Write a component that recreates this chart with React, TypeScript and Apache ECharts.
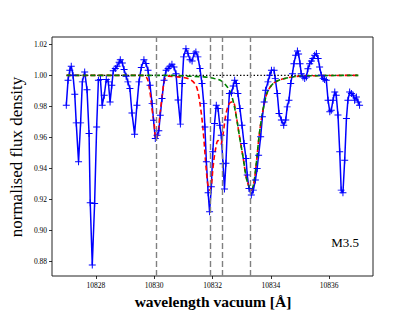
import React, { useEffect, useRef } from "react";
import * as echarts from "echarts";

// observed spectrum
const wavelength = [
  10826.99, 10827.05, 10827.11, 10827.16, 10827.22, 10827.28, 10827.33, 10827.41, 10827.48, 10827.54,
  10827.62, 10827.70, 10827.77, 10827.81, 10827.88, 10827.96, 10828.03, 10828.09, 10828.16, 10828.22,
  10828.29, 10828.36, 10828.43, 10828.49, 10828.55, 10828.60, 10828.67, 10828.73, 10828.80, 10828.84,
  10828.91, 10828.97, 10829.04, 10829.10, 10829.17, 10829.24, 10829.33, 10829.41, 10829.48, 10829.56,
  10829.65, 10829.72, 10829.79, 10829.86, 10829.93, 10829.98, 10830.04, 10830.10, 10830.16, 10830.21,
  10830.27, 10830.34, 10830.41, 10830.48, 10830.54, 10830.61, 10830.68, 10830.75, 10830.82, 10830.90,
  10830.96, 10831.01, 10831.09, 10831.16, 10831.23, 10831.30, 10831.37, 10831.43, 10831.50, 10831.57,
  10831.64, 10831.70, 10831.74, 10831.79, 10831.85, 10831.90, 10831.96, 10832.01, 10832.07, 10832.13,
  10832.19, 10832.25, 10832.30, 10832.36, 10832.41, 10832.46, 10832.52, 10832.58, 10832.65, 10832.71,
  10832.76, 10832.82, 10832.87, 10832.94, 10833.01, 10833.08, 10833.15, 10833.19, 10833.25, 10833.33,
  10833.40, 10833.47, 10833.53, 10833.58, 10833.65, 10833.71, 10833.77, 10833.82, 10833.90, 10833.96,
  10834.02, 10834.11, 10834.15, 10834.22, 10834.28, 10834.36, 10834.44, 10834.51, 10834.56, 10834.62,
  10834.68, 10834.74, 10834.79, 10834.85, 10834.91, 10834.95, 10835.00, 10835.04, 10835.10, 10835.16,
  10835.22, 10835.27, 10835.33, 10835.39, 10835.44, 10835.50, 10835.56, 10835.62, 10835.67, 10835.73,
  10835.79, 10835.84, 10835.90, 10835.96, 10836.02, 10836.07, 10836.13, 10836.19, 10836.24, 10836.30,
  10836.36, 10836.41, 10836.47, 10836.53, 10836.59, 10836.64, 10836.70, 10836.76, 10836.82, 10836.87,
  10836.93, 10836.99, 10837.04,
];
const flux = [
  0.9808, 0.9969, 1.0033, 1.0059, 1.0001, 0.9879, 0.9694, 0.9443, 0.9694, 0.9958,
  1.0022, 0.9908, 0.9626, 0.9180, 0.8779, 0.9175, 0.9668, 0.9969, 0.9973, 0.9808,
  0.9872, 0.9973, 0.9958, 0.9829, 0.9936, 1.0029, 1.0044, 1.0059, 1.0084, 1.0101,
  1.0080, 1.0037, 0.9994, 0.9958, 0.9915, 0.9758, 0.9621, 0.9808, 0.9958, 1.0050,
  1.0101, 1.0076, 1.0033, 0.9936, 0.9818, 0.9711, 0.9593, 0.9615, 0.9643, 0.9743,
  0.9851, 0.9969, 1.0033, 1.0044, 1.0059, 1.0071, 1.0054, 1.0011, 0.9842, 0.9686,
  0.9947, 1.0119, 1.0172, 1.0140, 1.0101, 1.0093, 1.0140, 1.0151, 1.0119, 1.0044,
  0.9947, 0.9818, 0.9668, 0.9443, 0.9244, 0.9122, 0.9283, 0.9508, 0.9690, 0.9808,
  0.9786, 0.9679, 0.9615, 0.9431, 0.9268, 0.9434, 0.9712, 0.9883, 0.9887, 0.9932,
  0.9969, 0.9947, 0.9883, 0.9786, 0.9679, 0.9561, 0.9465, 0.9358, 0.9272, 0.9229,
  0.9261, 0.9326, 0.9400, 0.9486, 0.9604, 0.9733, 0.9829, 0.9904, 0.9958, 1.0001,
  1.0033, 1.0033, 0.9979, 0.9883, 0.9754, 0.9712, 0.9679, 0.9712, 0.9797, 0.9840,
  0.9947, 1.0011, 1.0075, 1.0129, 1.0157, 1.0138, 1.0075, 1.0011, 0.9990, 0.9979,
  0.9990, 1.0043, 1.0075, 1.0093, 1.0108, 1.0129, 1.0140, 1.0108, 1.0054, 1.0001,
  0.9979, 0.9973, 0.9969, 0.9840, 0.9765, 0.9776, 0.9840, 0.9893, 0.9872, 0.9744,
  0.9508, 0.9261, 0.9244, 0.9454, 0.9722, 0.9840, 0.9893, 0.9883, 0.9872, 0.9840,
  0.9861, 0.9829, 0.9808,
];

// full model (red)
const redWl = [
  10827.0, 10829.5, 10829.73, 10829.85, 10829.93, 10830.0, 10830.06, 10830.13, 10830.19, 10830.27,
  10830.36, 10830.48, 10830.82, 10831.16, 10831.39, 10831.5, 10831.62, 10831.7, 10831.77, 10831.84,
  10831.91, 10831.96, 10832.02, 10832.1, 10832.19, 10832.28, 10832.36, 10832.46, 10832.58, 10832.7,
  10832.82, 10832.93, 10833.05, 10833.16, 10833.28, 10833.33, 10833.41, 10833.5, 10833.58, 10833.67,
  10833.79, 10833.9, 10834.13, 10834.48, 10835.0, 10837.0,
];
const redFlux = [
  1.0, 1.0, 0.999, 0.99, 0.978, 0.969, 0.959, 0.962, 0.973, 0.986,
  0.997, 0.9995, 0.999, 0.998, 0.9948, 0.9895, 0.975, 0.96, 0.943, 0.93,
  0.926, 0.929, 0.941, 0.952, 0.958, 0.956, 0.962, 0.975, 0.982, 0.983,
  0.973, 0.96, 0.947, 0.934, 0.927, 0.926, 0.93, 0.943, 0.958, 0.971,
  0.983, 0.99, 0.9955, 0.998, 0.9995, 1.0,
];

// helium-only model (green)
const greenWl = [
  10827.0, 10830.5, 10831.16, 10831.71, 10832.06, 10832.25, 10832.42, 10832.59, 10832.7, 10832.82,
  10832.93, 10833.05, 10833.16, 10833.28, 10833.33, 10833.41, 10833.5, 10833.58, 10833.67, 10833.79,
  10833.9, 10834.13, 10834.48, 10835.0, 10837.0,
];
const greenFlux = [
  1.0, 1.0, 0.9995, 0.999, 0.998, 0.997, 0.9945, 0.99, 0.984, 0.973,
  0.96, 0.947, 0.934, 0.927, 0.926, 0.93, 0.943, 0.958, 0.971, 0.983,
  0.99, 0.9955, 0.998, 0.9995, 1.0,
];

const continuumWl = [10827.0, 10837.0];
const continuumFlux = [1.0, 1.0];

const lineCenters = [10830.06, 10831.93, 10832.33, 10833.28];
const xTicks = [10828, 10830, 10832, 10834, 10836];
const yTicks = [0.88, 0.9, 0.92, 0.94, 0.96, 0.98, 1.0, 1.02];
const spectralType = "M3.5";

const zip = (a: number[], b: number[]) => a.map((v, i) => [v, b[i]]);

const PLUS =
  "path://M-0.14,-1H0.14V-0.14H1V0.14H0.14V1H-0.14V0.14H-1V-0.14H-0.14Z";
const SERIF = '"Liberation Serif", "DejaVu Serif", serif';

export default function App() {
  const ref = useRef<HTMLDivElement>(null);
  useEffect(() => {
    if (!ref.current) return;
    const chart = echarts.init(ref.current, undefined, { renderer: "svg" });
    chart.setOption({
      animation: false,
      backgroundColor: "#ffffff",
      grid: {
        left: 52,
        right: 42,
        top: 37,
        bottom: 35,
        show: true,
        borderColor: "#222",
        borderWidth: 1,
        backgroundColor: "transparent",
      },
      xAxis: {
        type: "value",
        min: 10826.5,
        max: 10837.5,
        axisLine: { show: false },
        splitLine: { show: false },
        axisTick: {
          show: true,
          length: 3,
          customValues: xTicks,
          lineStyle: { color: "#000", width: 0.8 },
        },
        axisLabel: {
          customValues: xTicks,
          margin: 5,
          fontSize: 7.5,
          fontFamily: SERIF,
          color: "#000",
          formatter: (v: number) => String(Math.round(v)),
        },
      },
      yAxis: {
        type: "value",
        min: 0.8708,
        max: 1.0247,
        axisLine: { show: false },
        splitLine: { show: false },
        axisTick: {
          show: true,
          length: 3,
          customValues: yTicks,
          lineStyle: { color: "#000", width: 0.8 },
        },
        axisLabel: {
          customValues: yTicks,
          margin: 5,
          fontSize: 7.5,
          fontFamily: SERIF,
          color: "#000",
          formatter: (v: number) => v.toFixed(2),
        },
      },
      graphic: [
        {
          type: "text",
          x: 359,
          y: 242,
          style: {
            text: spectralType,
            align: "right",
            verticalAlign: "middle",
            font: `13px ${SERIF}`,
            fill: "#000",
          },
        },
        {
          type: "text",
          x: 213,
          y: 301,
          style: {
            text: "wavelength vacuum [Å]",
            align: "center",
            verticalAlign: "middle",
            font: `bold 15.5px ${SERIF}`,
            fill: "#000",
          },
        },
        {
          type: "text",
          x: 16,
          y: 157,
          rotation: Math.PI / 2,
          style: {
            text: "normalised flux density",
            align: "center",
            verticalAlign: "middle",
            font: `17px ${SERIF}`,
            fill: "#000",
          },
        },
      ],
      series: [
        {
          type: "line",
          data: [],
          silent: true,
          markLine: {
            silent: true,
            symbol: ["none", "none"],
            label: { show: false },
            lineStyle: { type: [6, 3], color: "#808080", width: 1.4 },
            data: lineCenters.map((v) => ({ xAxis: v })),
          },
        },
        {
          type: "line",
          data: zip(wavelength, flux),
          symbol: PLUS,
          symbolSize: 7,
          itemStyle: { color: "#0000ff" },
          lineStyle: { color: "#0000ff", width: 1.5 },
        },
        {
          type: "line",
          data: zip(continuumWl, continuumFlux),
          symbol: "none",
          lineStyle: { color: "#000", width: 1.4, type: [1.4, 2] },
        },
        {
          type: "line",
          data: zip(redWl, redFlux),
          symbol: "none",
          smooth: 0.35,
          lineStyle: { color: "#ff0000", width: 1.6, type: [5, 3] },
        },
        {
          type: "line",
          data: zip(greenWl, greenFlux),
          symbol: "none",
          smooth: 0.35,
          lineStyle: { color: "#008000", width: 1.6, type: [5, 3] },
        },
      ],
    });
    return () => chart.dispose();
  }, []);
  return (
    <div
      ref={ref}
      style={{ position: "fixed", left: 0, top: 0, width: 415, height: 311, background: "#fff" }}
    />
  );
}
